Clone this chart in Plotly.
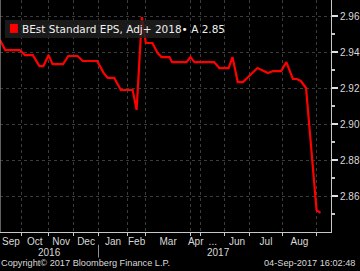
import plotly.graph_objects as go

# observation index (trading-day style index) and EPS estimate values
obs_idx = [0, 4, 15, 19, 25, 30, 33, 37, 40, 48, 52, 59, 63, 74, 79, 82, 87, 92,
           101, 104, 108, 111, 116, 120, 123, 129, 131, 142, 145, 148, 163, 167,
           174, 177, 181, 185, 189, 196, 204, 208, 214, 218, 223, 226, 229, 233,
           241, 244]
eps = [2.9467, 2.9411, 2.9411, 2.9383, 2.9383, 2.9322, 2.9322, 2.9383, 2.9333,
       2.9333, 2.9378, 2.9378, 2.9350, 2.9350, 2.9283, 2.9256, 2.9256, 2.9189,
       2.9189, 2.9078, 2.9594, 2.9450, 2.9450, 2.9394, 2.9372, 2.9372, 2.9344,
       2.9344, 2.9372, 2.9344, 2.9344, 2.9311, 2.9311, 2.9372, 2.9233, 2.9233,
       2.9261, 2.9311, 2.9283, 2.9294, 2.9294, 2.9344, 2.9250, 2.9250, 2.9239,
       2.9200, 2.8522, 2.8506]

# month boundaries (index of first observation of each month: Oct 2016 .. Sep 2017)
month_start_idx = [16, 37, 56, 75, 97, 111, 145, 153, 171, 190, 215, 241]
month_labels = ["Sep", "Oct", "Nov", "Dec", "Jan", "Feb", "Mar", "Apr", "...",
                "Jun", "Jul", "Aug"]
year_labels = ["2016", "2017"]
y_major = [2.86, 2.88, 2.90, 2.92, 2.94, 2.96]
y_minor = [2.85, 2.87, 2.89, 2.91, 2.93, 2.95]
legend_name = "BEst Standard EPS, Adj+ 2018\u2022 A 2.85"

x_range = [0, 252]
bounds = [x_range[0] - 10] + month_start_idx
mids = [(bounds[i] + bounds[i + 1]) / 2 for i in range(len(month_labels))]
mids[0] = 8.3

FONT = "Liberation Sans"
TXT = "#d8d8d8"

fig = go.Figure()
fig.add_trace(go.Scatter(x=obs_idx, y=eps, mode="lines",
                         line=dict(color="#ff0000", width=2.2),
                         showlegend=False, hoverinfo="skip"))

fig.update_layout(
    width=360, height=271,
    margin=dict(l=0, r=27, t=0, b=39),
    paper_bgcolor="#000000", plot_bgcolor="#000000",
    font=dict(family=FONT, size=10, color=TXT),
    showlegend=False,
    xaxis=dict(range=x_range, tickmode="array", tickvals=mids, ticktext=month_labels,
               ticks="", showgrid=False, zeroline=False,
               showline=True, linecolor="#c8c8c8", linewidth=1,
               tickfont=dict(family=FONT, size=10, color=TXT),
               minor=dict(tickmode="array", tickvals=month_start_idx, ticks="outside",
                          ticklen=3, tickcolor="#c8c8c8", showgrid=True,
                          gridcolor="#3c3c3c", griddash="dot", gridwidth=1)),
    yaxis=dict(range=[2.84, 2.9689], side="right", tickmode="array", tickvals=y_major,
               ticktext=[f"{v:.2f}" for v in y_major], ticks="outside", ticklen=6,
               tickwidth=1.5, tickcolor="#e0e0e0", showgrid=True, gridcolor="#3c3c3c",
               griddash="dot", zeroline=False, showline=True, linecolor="#c8c8c8",
               linewidth=1, tickfont=dict(family=FONT, size=10, color=TXT),
               minor=dict(tickmode="array", tickvals=y_minor, ticks="outside",
                          ticklen=3, tickcolor="#c8c8c8", showgrid=False)),
)

# legend box (drawn manually to match the Bloomberg style)
fig.add_shape(type="rect", xref="paper", yref="paper", x0=0.015, x1=0.5435,
              y0=0.836, y1=0.914, line=dict(width=0),
              fillcolor="rgba(32,32,32,0.82)", layer="above")
fig.add_shape(type="rect", xref="paper", yref="paper", x0=0.030, x1=0.054,
              y0=0.858, y1=0.897, line=dict(width=0), fillcolor="#ff0000", layer="above")
fig.add_annotation(x=0.060, y=0.875, xref="paper", yref="paper", xanchor="left",
                   yanchor="middle", text=legend_name, showarrow=False,
                   font=dict(family="DejaVu Sans", size=10.5, color="#f0f0f0"))

# year labels
fig.add_annotation(x=(bounds[0] + month_start_idx[3]) / 2 + 5, y=0, xref="x", yref="paper",
                   text=year_labels[0], showarrow=False, yshift=-20, yanchor="middle",
                   font=dict(family=FONT, size=10, color=TXT))
fig.add_annotation(x=(month_start_idx[3] + x_range[1]) / 2 + 3, y=0, xref="x", yref="paper",
                   text=year_labels[1], showarrow=False, yshift=-20, yanchor="middle",
                   font=dict(family=FONT, size=10, color=TXT))
# year separator
fig.add_shape(type="line", xref="x", yref="paper", x0=month_start_idx[3], x1=month_start_idx[3],
              y0=-0.055, y1=-0.11, line=dict(color="#909090", width=1))
# left frame edge
fig.add_shape(type="line", xref="paper", yref="paper", x0=0, x1=0, y0=0, y1=1,
              line=dict(color="#808080", width=1.5))

fig.add_annotation(x=0, y=0, xref="paper", yref="paper", xanchor="left", yanchor="middle",
                   yshift=-31, xshift=-1, text="Copyright\u00a9 2017 Bloomberg Finance L.P.",
                   showarrow=False, font=dict(family=FONT, size=9.2, color=TXT))
fig.add_annotation(x=1, y=0, xref="paper", yref="paper", xanchor="right", yanchor="middle",
                   yshift=-31, xshift=26, text="04-Sep-2017 16:02:48",
                   showarrow=False, font=dict(family=FONT, size=9.2, color=TXT))

fig.write_html("out.html")
